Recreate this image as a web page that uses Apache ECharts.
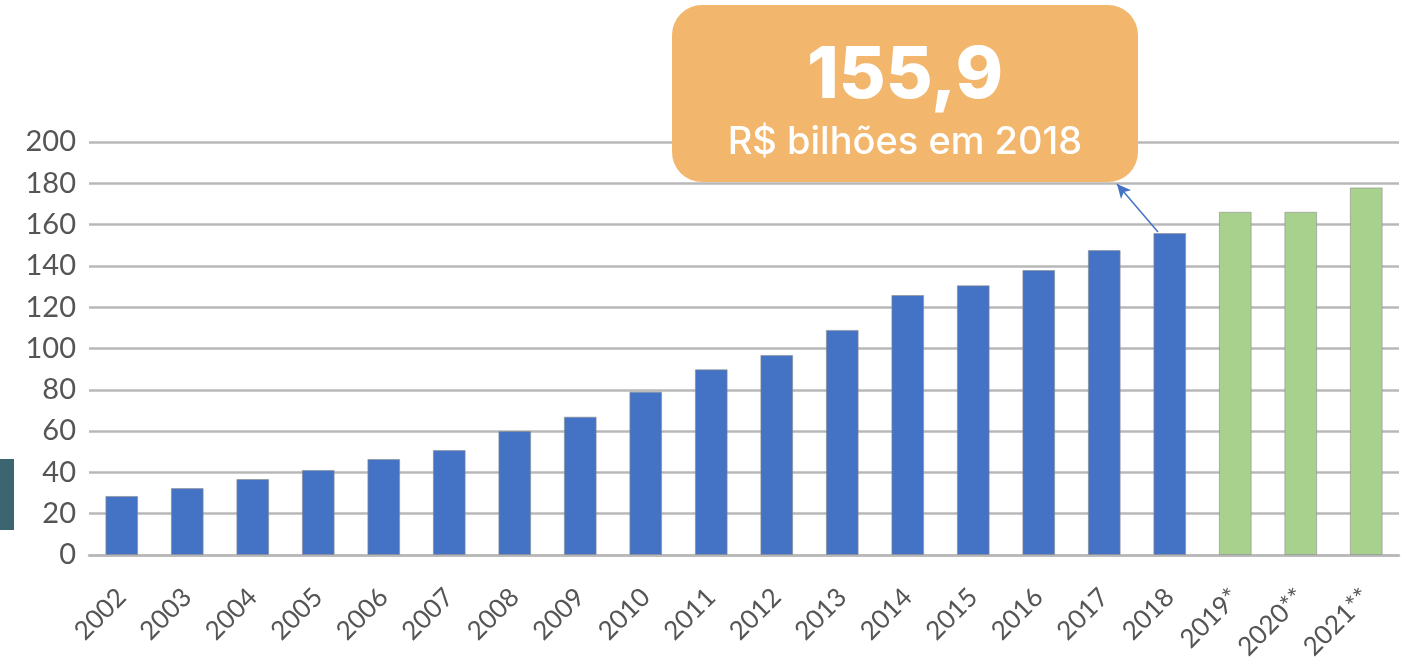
<!DOCTYPE html>
<html>
<head>
<meta charset="utf-8">
<script src="https://cdn.jsdelivr.net/npm/echarts@6/dist/echarts.min.js"></script>
<style>
  html, body { margin: 0; padding: 0; background: #fff; }
  #chart { width: 1412px; height: 664px; }
</style>
</head>
<body>
<div id="chart"></div>
<script>
// anos e valores (R$ bilhões)
const years = ['2002', '2003', '2004', '2005', '2006', '2007', '2008', '2009', '2010', '2011',
  '2012', '2013', '2014', '2015', '2016', '2017', '2018', '2019*', '2020**', '2021**']
const values = [28.6, 32.4, 36.8, 41.2, 46.5, 50.8, 60.0, 67.0, 79.1, 89.9,
  96.9, 109.0, 125.9, 130.6, 138.0, 147.7, 155.9, 166.2, 166.2, 178.0]
// projeções (marcadas com *)
const projected = years.map(y => y.indexOf('*') >= 0)
const yTicks = [0, 20, 40, 60, 80, 100, 120, 140, 160, 180, 200]

const calloutValue = '155,9'
const calloutText = 'R$ bilhões em 2018'

const chart = echarts.init(document.getElementById('chart'))
const option = {
  animation: false,
  grid: { left: 89, right: 13, top: 142, bottom: 109 },
  xAxis: {
    type: 'category',
    data: years,
    axisLine: { lineStyle: { color: '#b8b8b8', width: 2.5 } },
    axisTick: { show: false },
    axisLabel: {
      rotate: 45,
      interval: 0,
      margin: 38,
      color: '#555',
      fontFamily: 'Lato',
      fontSize: 26
    }
  },
  yAxis: {
    type: 'value',
    min: yTicks[0],
    max: yTicks[yTicks.length - 1],
    interval: 20,
    axisLine: { show: false },
    axisTick: { show: false },
    splitLine: { lineStyle: { color: '#b8b8b8', width: 2.5 } },
    axisLabel: {
      margin: 13,
      color: '#555',
      fontFamily: 'Lato',
      fontSize: 29
    }
  },
  series: [{
    type: 'bar',
    barWidth: '50%',
    data: values.map((v, i) => ({
      value: v,
      itemStyle: { color: projected[i] ? '#a9d18e' : '#4472c4' }
    })),
    itemStyle: { borderColor: 'rgba(140,140,140,0.6)', borderWidth: 1 },
    markLine: {
      silent: true,
      symbol: ['none', 'arrow'],
      symbolSize: [10, 14],
      label: { show: false },
      lineStyle: { color: '#4472c4', width: 1.5, type: 'solid' },
      data: [[{ x: 1158, y: 232 }, { x: 1117, y: 184 }]]
    }
  }],
  graphic: [
    {
      // faixa escura à esquerda
      type: 'rect',
      z: 100,
      shape: { x: 0, y: 459, width: 14, height: 71 },
      style: { fill: '#3b6670' }
    },
    {
      type: 'group',
      left: 672,
      top: 5,
      z: 100,
      children: [
        {
          type: 'rect',
          z: 100,
          shape: { x: 0, y: 0, width: 466, height: 177, r: 30 },
          style: { fill: '#f2b66d' }
        },
        {
          type: 'text',
          z: 101,
          x: 233,
          y: 71,
          style: {
            text: calloutValue,
            fill: '#fff',
            font: '800 72px Inter',
            align: 'center',
            verticalAlign: 'middle'
          }
        },
        {
          type: 'text',
          z: 101,
          x: 233,
          y: 138,
          style: {
            text: calloutText,
            fill: '#fff',
            font: '500 38px Inter',
            align: 'center',
            verticalAlign: 'middle'
          }
        }
      ]
    }
  ]
}
chart.setOption(option)
</script>
</body>
</html>
